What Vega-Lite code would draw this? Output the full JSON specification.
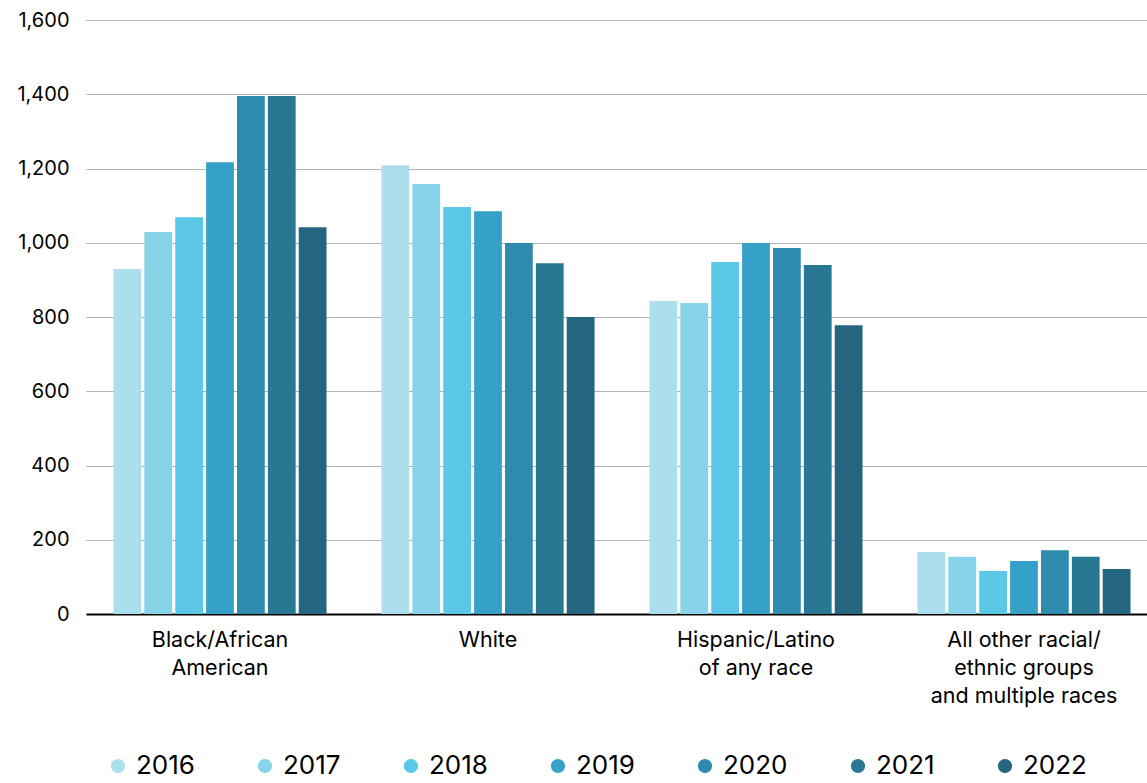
{
  "$schema": "https://vega.github.io/schema/vega-lite/v6.json",
  "width": 1061,
  "height": 594,
  "autosize": {"type": "none"},
  "padding": {"left": 86, "top": 20, "right": 0, "bottom": 169},
  "background": "white",
  "config": {
    "view": {"stroke": null},
    "font": "Inter",
    "axis": {"labelFont": "Inter", "labelColor": "#000000"},
    "legend": {"labelFont": "Inter"}
  },
  "data": {
    "values": [
      {"group": "Black/African|American", "year": "2016", "value": 929},
      {"group": "Black/African|American", "year": "2017", "value": 1029},
      {"group": "Black/African|American", "year": "2018", "value": 1069},
      {"group": "Black/African|American", "year": "2019", "value": 1217},
      {"group": "Black/African|American", "year": "2020", "value": 1395},
      {"group": "Black/African|American", "year": "2021", "value": 1395},
      {"group": "Black/African|American", "year": "2022", "value": 1042},
      {"group": "White", "year": "2016", "value": 1209},
      {"group": "White", "year": "2017", "value": 1158},
      {"group": "White", "year": "2018", "value": 1096},
      {"group": "White", "year": "2019", "value": 1085},
      {"group": "White", "year": "2020", "value": 999},
      {"group": "White", "year": "2021", "value": 945},
      {"group": "White", "year": "2022", "value": 800},
      {"group": "Hispanic/Latino|of any race", "year": "2016", "value": 843},
      {"group": "Hispanic/Latino|of any race", "year": "2017", "value": 838},
      {"group": "Hispanic/Latino|of any race", "year": "2018", "value": 948},
      {"group": "Hispanic/Latino|of any race", "year": "2019", "value": 999},
      {"group": "Hispanic/Latino|of any race", "year": "2020", "value": 986},
      {"group": "Hispanic/Latino|of any race", "year": "2021", "value": 940},
      {"group": "Hispanic/Latino|of any race", "year": "2022", "value": 778},
      {"group": "All other racial/|ethnic groups|and multiple races", "year": "2016", "value": 167},
      {"group": "All other racial/|ethnic groups|and multiple races", "year": "2017", "value": 154},
      {"group": "All other racial/|ethnic groups|and multiple races", "year": "2018", "value": 116},
      {"group": "All other racial/|ethnic groups|and multiple races", "year": "2019", "value": 143},
      {"group": "All other racial/|ethnic groups|and multiple races", "year": "2020", "value": 172},
      {"group": "All other racial/|ethnic groups|and multiple races", "year": "2021", "value": 154},
      {"group": "All other racial/|ethnic groups|and multiple races", "year": "2022", "value": 121}
    ]
  },
  "mark": {"type": "bar"},
  "encoding": {
    "x": {
      "field": "group",
      "type": "nominal",
      "sort": null,
      "scale": {"paddingInner": 0.205, "paddingOuter": 0.082, "align": 0.625},
      "axis": {
        "title": null,
        "labelAngle": 0,
        "labelExpr": "split(datum.label, '|')",
        "labelFontSize": 21.5,
        "labelLineHeight": 28,
        "labelPadding": 15,
        "ticks": false,
        "domain": true,
        "domainColor": "#000000",
        "domainWidth": 2,
        "labelLimit": 300
      }
    },
    "xOffset": {
      "field": "year",
      "type": "nominal",
      "scale": {"paddingInner": 0.1, "paddingOuter": 0}
    },
    "y": {
      "field": "value",
      "type": "quantitative",
      "scale": {"domain": [0, 1600], "nice": false},
      "axis": {
        "title": null,
        "values": [0, 200, 400, 600, 800, 1000, 1200, 1400, 1600],
        "format": ",d",
        "domain": false,
        "ticks": false,
        "labelFontSize": 20,
        "labelPadding": 17,
        "gridColor": "#b3b3b3",
        "gridWidth": 1
      }
    },
    "color": {
      "field": "year",
      "type": "nominal",
      "scale": {
        "domain": ["2016", "2017", "2018", "2019", "2020", "2021", "2022"],
        "range": ["#abdfee", "#87d3ea", "#5bc8e8", "#35a0c8", "#2f8bae", "#287893", "#24657f"]
      },
      "legend": {
        "title": null,
        "orient": "none",
        "legendX": 19,
        "legendY": 733,
        "direction": "horizontal",
        "columns": 7,
        "symbolType": "circle",
        "symbolSize": 200,
        "symbolStrokeWidth": 0,
        "labelFontSize": 26,
        "labelColor": "#000000",
        "labelOffset": 5,
        "columnPadding": 57
      }
    }
  }
}
